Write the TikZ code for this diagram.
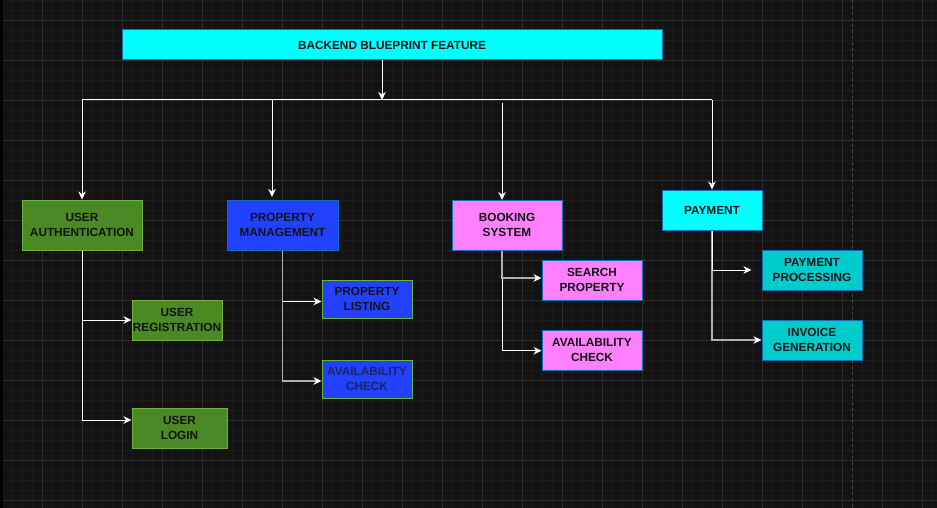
\documentclass[tikz,border=0pt]{standalone}
\usepackage{fontspec}
\setmainfont{Liberation Sans}
\usetikzlibrary{arrows.meta}
\definecolor{bg}{HTML}{131313}
\definecolor{minorc}{HTML}{1B1B1B}
\definecolor{majorc}{HTML}{2C2C2C}
\definecolor{dashc}{HTML}{4A4A4A}
\definecolor{cyanf}{HTML}{00FFFF}
\definecolor{bluebd}{HTML}{0E6FBD}
\definecolor{greenf}{HTML}{4A8923}
\definecolor{greenbd}{HTML}{6CB43E}
\definecolor{bluef}{HTML}{2141FF}
\definecolor{pinkf}{HTML}{FF80FF}
\definecolor{tealf}{HTML}{00CCCC}
\definecolor{txt}{HTML}{141414}
\definecolor{txtb}{HTML}{1B2560}
\definecolor{wgray}{HTML}{B0B0B0}
\begin{document}
\begin{tikzpicture}[x=1pt,y=-1pt,
  box/.style={draw, line width=1pt, inner sep=0pt, align=center,
    font=\bfseries\fontsize{11.8}{14.8}\selectfont, text=txt},
  cyanbox/.style={box, fill=cyanf, draw=bluebd},
  greenbox/.style={box, fill=greenf, draw=greenbd},
  bluebox/.style={box, fill=bluef, draw=bluebd},
  blueboxg/.style={box, fill=bluef, draw=greenbd},
  pinkbox/.style={box, fill=pinkf, draw=bluebd},
  tealbox/.style={box, fill=tealf, draw=bluebd},
  wire/.style={draw=white, line width=1pt, -{Stealth[length=8pt,width=7.5pt,inset=2.5pt]}},
  wiregray/.style={draw=wgray, line width=1.2pt, -{Stealth[length=8pt,width=7.5pt,inset=2.5pt,color=white]}},
  plain/.style={draw=white, line width=1pt},
  minorline/.style={draw=minorc, line width=0.8pt},
  majorline/.style={draw=majorc, line width=1pt}]
\useasboundingbox (0,0) rectangle (937,508);
% background and grid
\fill[bg] (0,0) rectangle (937,508);
\foreach \i in {0,...,93} \draw[minorline] ({2.7+10*\i},0) -- ++(0,508);
\foreach \i in {0,...,50} \draw[minorline] (0,{0.7+10*\i}) -- ++(937,0);
\foreach \i in {0,...,23} \draw[majorline] ({2.7+40*\i},0) -- ++(0,508);
\foreach \i in {0,...,12} \draw[majorline] (0,{20.7+40*\i}) -- ++(937,0);
\fill[black] (0,0) rectangle (2.7,508);
\draw[dashc, line width=1pt, dash pattern=on 3pt off 3pt] (852.3,0) -- (852.3,508);
% nodes
\node[cyanbox, minimum width=540pt, minimum height=30pt] (title) at (392,45) {BACKEND BLUEPRINT FEATURE};
\node[greenbox, minimum width=120pt, minimum height=50pt] (ua) at (82,225) {USER\\AUTHENTICATION};
\node[bluebox, minimum width=111pt, minimum height=50pt] (pm) at (282.5,225) {PROPERTY\\MANAGEMENT};
\node[pinkbox, minimum width=110pt, minimum height=50pt] (bs) at (507,225) {BOOKING\\SYSTEM};
\node[cyanbox, minimum width=100pt, minimum height=40pt] (pay) at (712,210) {PAYMENT};
\node[greenbox, minimum width=90pt, minimum height=40pt] (ur) at (177,320) {USER\\REGISTRATION};
\node[greenbox, minimum width=95pt, minimum height=40pt] (ul) at (179.5,428) {USER\\LOGIN};
\node[blueboxg, minimum width=90pt, minimum height=38pt] (pl) at (367,299) {PROPERTY\\LISTING};
\node[blueboxg, minimum width=90pt, minimum height=38pt, text=txtb] (pa) at (367,379) {AVAILABILITY\\CHECK};
\node[pinkbox, minimum width=100pt, minimum height=40pt] (sp) at (592,280) {SEARCH\\PROPERTY};
\node[pinkbox, minimum width=100pt, minimum height=40pt] (ba) at (592,350) {AVAILABILITY\\CHECK};
\node[tealbox, minimum width=100pt, minimum height=40pt] (pp) at (812,270) {PAYMENT\\PROCESSING};
\node[tealbox, minimum width=100pt, minimum height=40pt] (ig) at (812,340) {INVOICE\\GENERATION};
% top connectors
\coordinate (busM) at (382,100);
\coordinate (busL) at (82,100);
\coordinate (busR) at (712,100);
\coordinate (pmIn) at (272,197);
\coordinate (bsTop) at (502,103);
\coordinate (bsIn) at (502,200);
\draw[wire] (busM |- title.south) -- (busM);
\draw[plain] (busL) -- (busR);
\draw[wire] (busL) -- (ua.north);
\draw[wire] (pmIn |- busL) -- (pmIn);
\draw[wire] (bsTop) -- (bsIn);
\draw[wire] (busR) -- (pay.north);
% user authentication
\draw[wire] (ua.south) |- (ur.west);
\draw[wire] (ua.south) |- ([yshift=8pt]ul.west);
% property management
\draw[wire] (pm.south) |- ([yshift=-2.5pt]pl.west);
\draw[wiregray] (pm.south) |- ([yshift=-2pt]pa.west);
% booking
\draw[wire] ([xshift=-5pt]bs.south) |- ([yshift=-0.7pt]ba.west);
\draw[wiregray] ([xshift=-5pt]bs.south) |- ([yshift=2pt]sp.west);
% payment
\draw[wiregray] (pay.south) |- (ig.west);
\draw[wire] (pay.south) |- ([xshift=-10pt]pp.west);
\end{tikzpicture}
\end{document}
